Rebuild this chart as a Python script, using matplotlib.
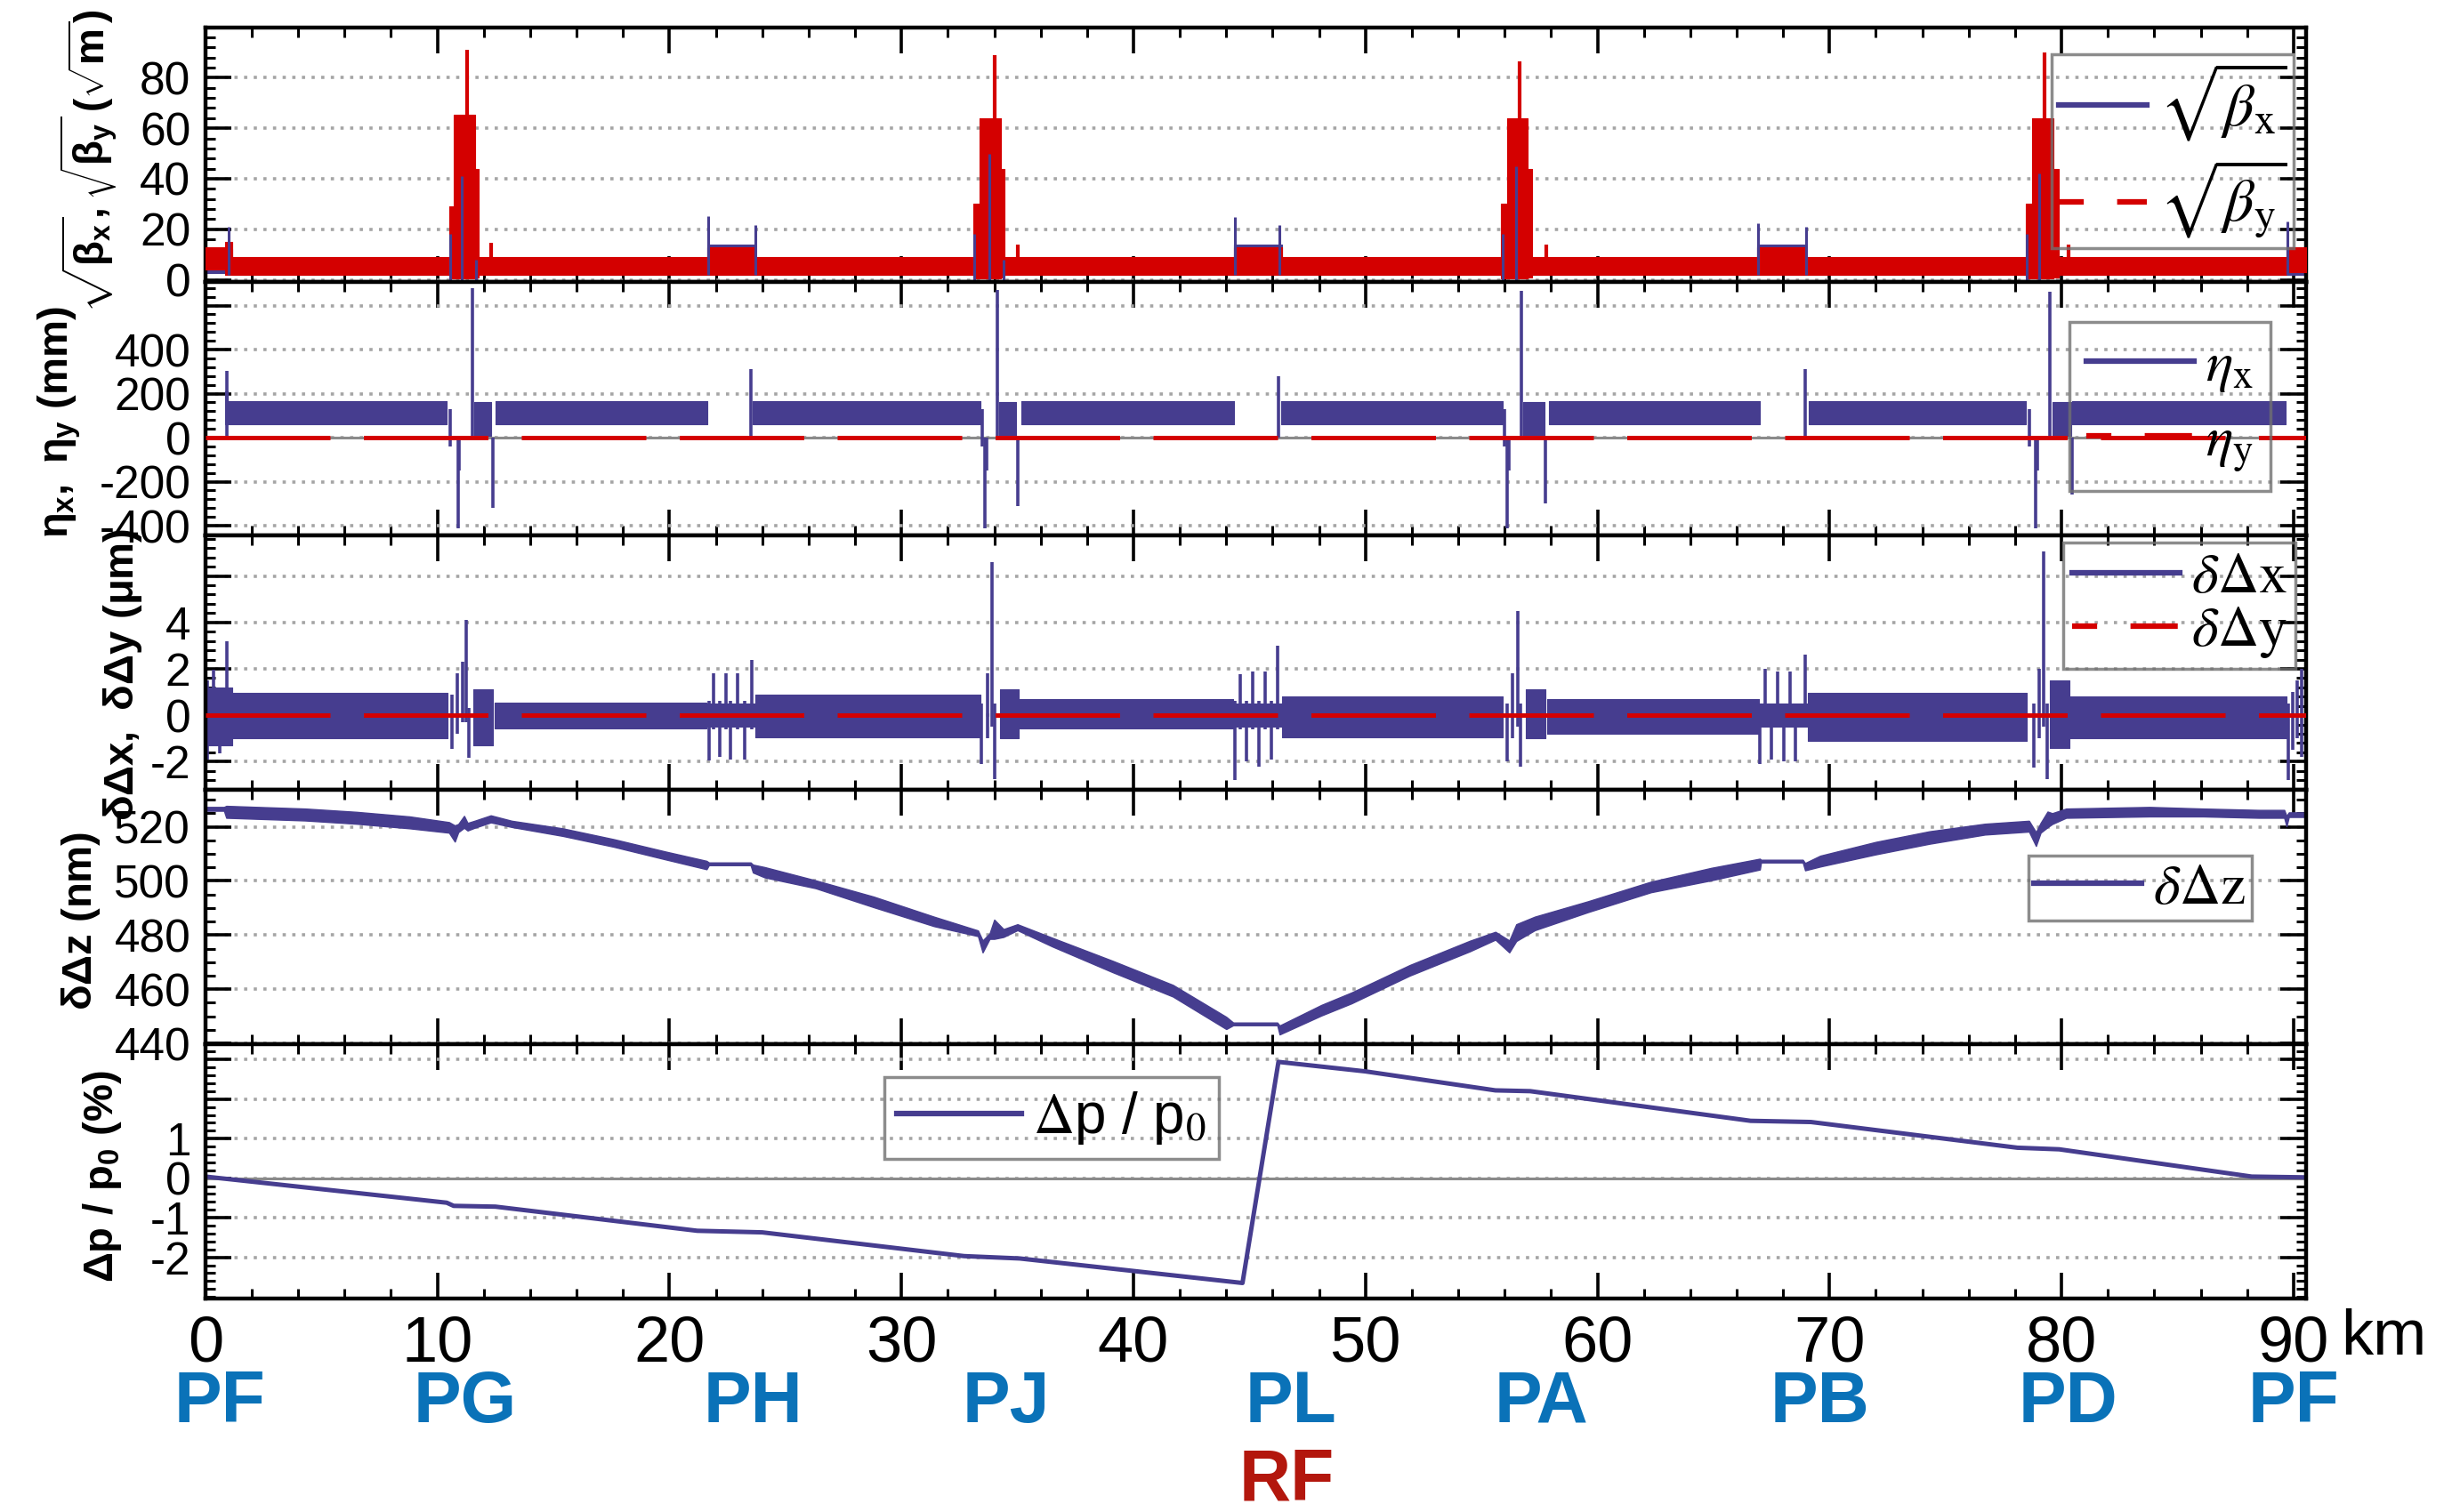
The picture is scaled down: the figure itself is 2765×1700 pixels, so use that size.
import matplotlib
matplotlib.use('Agg')
import matplotlib.pyplot as plt
import matplotlib.transforms as mtransforms
from matplotlib.lines import Line2D
from matplotlib.ticker import MultipleLocator

BLUE = '#463d8f'
RED = '#d40000'
GRAY = '#8a8a8a'

# ---------------- data ----------------
ring_km = [0.0, 90.6]
zero_line = [0.0, 0.0]

# sqrt(beta): dense betatron wiggles given as envelopes (km from, km to, min, max)
bx_blocks = [(0.0, 1.15, 2.5, 12.0), (1.15, 90.6, 2.0, 8.5),
             (21.63, 23.72, 4.0, 14.0), (44.35, 46.40, 4.0, 14.0),
             (66.90, 69.00, 4.0, 14.0), (89.70, 90.6, 3.0, 13.0)]
by_blocks = [(0.0, 0.85, 4.0, 12.9), (0.85, 1.15, 1.8, 15.0), (1.15, 89.7, 1.8, 8.9),
             (21.63, 23.72, 4.0, 12.9), (44.35, 46.40, 4.0, 12.9), (66.90, 69.00, 4.0, 12.9),
             (10.51, 10.69, 0.5, 29.0), (10.69, 11.61, 0.5, 65.5), (11.61, 11.76, 1.0, 44.0),
             (33.09, 33.36, 0.5, 30.0), (33.36, 34.30, 0.5, 64.0), (34.30, 34.45, 1.0, 44.0),
             (55.84, 56.10, 0.5, 30.0), (56.10, 57.00, 0.5, 64.0), (57.00, 57.17, 1.0, 44.0),
             (78.47, 78.72, 0.5, 30.0), (78.72, 79.66, 0.5, 64.0), (79.66, 79.87, 1.0, 44.0),
             (89.70, 90.6, 3.0, 13.0)]
by_spikes = [(11.28, 0.5, 91.0), (34.00, 0.5, 89.0), (56.66, 0.5, 86.5), (79.27, 0.5, 90.0),
             (12.30, 2.0, 14.6), (35.00, 2.0, 14.0), (57.80, 2.0, 14.0), (80.30, 2.0, 14.0)]
bx_spikes = [(1.00, 2.0, 21.0), (21.66, 2.0, 25.3), (23.69, 2.0, 21.7), (44.37, 2.0, 25.0),
             (46.30, 2.0, 21.7), (66.92, 2.0, 22.5), (68.98, 2.0, 21.0), (89.72, 2.0, 23.0),
             (10.55, 0.0, 18.0), (11.06, 0.0, 41.0), (11.65, 0.0, 8.0),
             (33.15, 0.0, 18.0), (33.80, 0.0, 50.0), (34.40, 0.0, 8.0),
             (55.90, 0.0, 18.0), (56.50, 0.0, 45.0), (78.50, 0.0, 18.0), (79.05, 0.0, 42.0)]

# dispersion eta_x (mm)
etax_blocks = [(0.98, 10.40, 60, 165), (12.49, 21.62, 60, 165), (23.60, 33.40, 60, 165),
               (35.16, 44.35, 60, 165), (46.35, 55.90, 60, 165), (57.90, 67.00, 60, 165),
               (69.10, 78.45, 60, 165), (80.45, 89.65, 60, 165), (0.83, 0.98, 60, 210),
               (11.60, 12.30, 10, 160), (34.20, 34.95, 10, 160), (56.80, 57.70, 10, 160),
               (79.60, 80.40, 10, 160)]
etax_spikes = [(0.93, 0, 305), (10.55, -40, 130), (10.89, -410, 0), (10.95, -150, 0),
               (11.50, 0, 680), (12.38, -317, 0), (23.50, 0, 310),
               (33.50, -40, 130), (33.60, -410, 0), (33.68, -150, 0), (34.14, 0, 670),
               (35.02, -310, 0), (46.25, 0, 280),
               (56.00, -40, 130), (56.10, -410, 0), (56.18, -150, 0), (56.73, 0, 665),
               (57.74, -300, 0), (68.94, 0, 310),
               (78.60, -40, 130), (78.90, -410, 0), (78.98, -150, 0), (79.50, 0, 662),
               (80.45, -260, 0)]
eta_y = [0.0, 0.0]

# orbit deviation dx (um)
dx_blocks = [(0.0, 1.15, -1.3, 1.2), (1.15, 10.45, -1.0, 0.95), (12.45, 21.60, -0.55, 0.55),
             (23.70, 33.40, -0.95, 0.9), (35.10, 44.30, -0.55, 0.7), (46.40, 55.90, -0.95, 0.8),
             (57.85, 66.95, -0.8, 0.7), (69.05, 78.50, -1.1, 0.95), (80.35, 89.70, -1.0, 0.8),
             (11.55, 12.38, -1.3, 1.13), (34.25, 35.05, -1.0, 1.1), (56.90, 57.75, -1.0, 1.1),
             (79.50, 80.33, -1.4, 1.5), (21.60, 23.70, -0.5, 0.5), (44.30, 46.40, -0.5, 0.5),
             (66.95, 69.05, -0.5, 0.5)]
dx_spikes = [(0.10, -1.9, 1.5), (0.35, -1.0, 1.95), (0.60, -1.65, 0.8), (0.94, -1.2, 3.2),
             (10.62, -1.45, 0.9), (10.85, -0.8, 1.8), (11.10, -0.3, 2.3), (11.24, -0.3, 4.1),
             (11.36, -1.85, 0.3),
             (21.70, -1.95, 0.6), (21.91, -0.6, 1.8), (22.18, -1.8, 0.6), (22.44, -0.6, 1.8),
             (22.62, -1.9, 0.6), (22.95, -0.6, 1.8), (23.23, -1.9, 0.6), (23.54, -0.6, 2.4),
             (33.43, -2.1, 0.5), (33.70, -1.0, 1.8), (33.90, -0.5, 6.6), (34.00, -2.75, 0.5),
             (44.39, -2.8, 0.6), (44.62, -0.6, 1.75), (44.88, -2.0, 0.6), (45.14, -0.6, 1.9),
             (45.40, -2.2, 0.6), (45.68, -0.6, 1.9), (45.95, -1.9, 0.6), (46.22, -0.6, 3.0),
             (56.10, -2.0, 0.5), (56.35, -1.0, 1.8), (56.55, -0.5, 4.5), (56.67, -2.2, 0.5),
             (67.00, -2.1, 0.5), (67.24, -0.5, 2.0), (67.48, -1.9, 0.5), (67.76, -0.5, 1.9),
             (68.02, -2.0, 0.5), (68.30, -0.5, 1.9), (68.53, -2.0, 0.5), (68.94, -0.5, 2.6),
             (78.80, -2.25, 0.5), (79.03, -1.0, 2.0), (79.22, -0.5, 7.05), (79.38, -2.75, 0.5),
             (89.77, -2.8, 0.5), (89.95, -1.5, 1.0), (90.15, -1.0, 1.5), (90.36, -1.8, 2.0)]
dy_line = [0.0, 0.0]

# longitudinal deviation dz (nm), band of the fast ripple
dz_s = [0.0, 0.8, 0.9, 4.3, 6.5, 8.8, 10.5, 10.75, 10.9, 11.15, 11.3, 11.6, 12.3, 13.2,
        15.4, 17.6, 19.8, 21.6, 21.7, 23.5, 23.6, 24.1, 26.3, 28.8, 31.4, 33.3, 33.5,
        33.8, 34.0, 34.4, 35.0, 36.5, 39.1, 41.7, 44.0, 44.3, 46.2, 46.3, 48.1, 49.4,
        51.9, 54.5, 55.6, 56.2, 56.5, 57.3, 59.6, 62.3, 64.9, 67.0, 67.05, 68.85, 68.95,
        69.6, 72.0, 74.3, 76.7, 78.6, 78.9, 79.1, 79.4, 79.6, 80.2, 83.8, 86.1, 88.5,
        89.6, 89.7, 89.8, 90.6]
dz_lo = [525.9, 525.9, 523.3, 522.3, 521.1, 519.4, 517.8, 514.5, 518.0, 519.6, 518.6,
         519.6, 521.6, 519.9, 516.6, 512.6, 508.0, 504.3, 505.8, 505.8, 503.1, 501.3,
         497.3, 490.3, 483.3, 479.6, 473.6, 478.6, 478.6, 479.3, 481.8, 475.8, 466.3,
         457.3, 445.3, 446.7, 446.7, 443.3, 450.3, 454.8, 465.0, 474.0, 478.3, 473.6,
         477.8, 481.8, 488.5, 495.8, 500.2, 504.2, 506.8, 506.8, 503.9, 505.3, 509.8,
         513.7, 517.1, 518.2, 512.9, 517.8, 519.8, 521.0, 523.3, 523.8, 523.8, 523.3,
         523.3, 520.2, 523.6, 523.6]
dz_hi = [527.3, 527.3, 527.7, 526.7, 525.5, 523.8, 521.7, 520.5, 521.0, 524.0, 521.4,
         522.2, 524.2, 522.2, 519.4, 515.4, 510.9, 507.4, 506.8, 506.8, 506.0, 505.1,
         500.2, 494.2, 486.8, 481.7, 478.0, 480.6, 485.7, 482.2, 484.0, 479.0, 470.5,
         461.6, 449.8, 447.7, 447.7, 446.6, 454.2, 458.8, 468.9, 477.9, 481.2, 478.0,
         484.0, 486.8, 492.5, 499.7, 504.8, 508.2, 507.8, 507.8, 506.6, 509.3, 514.4,
         518.3, 521.1, 522.2, 518.0, 521.4, 525.6, 525.0, 526.7, 527.3, 526.7, 526.2,
         526.2, 524.0, 525.3, 525.3]

# momentum deviation dp/p0 (%)
dp_s = [0.0, 10.4, 10.7, 12.5, 21.2, 24.0, 32.7, 35.1, 44.7, 46.25, 50.0, 55.6, 57.1,
        66.6, 69.2, 78.1, 79.9, 88.2, 90.6]
dp_v = [0.04, -0.62, -0.70, -0.72, -1.33, -1.37, -1.97, -2.03, -2.65, 2.94, 2.70,
        2.22, 2.20, 1.45, 1.42, 0.77, 0.73, 0.04, 0.02]

x_ticks = [0, 10, 20, 30, 40, 50, 60, 70, 80, 90]
stations = ['PF', 'PG', 'PH', 'PJ', 'PL', 'PA', 'PB', 'PD', 'PF']
station_km = [0.6, 11.2, 23.6, 34.5, 46.8, 57.6, 69.6, 80.3, 90.0]
rf_km = 46.6

# ---------------- drawing ----------------
plt.rcParams['font.family'] = ['Liberation Sans', 'DejaVu Sans']
plt.rcParams['mathtext.fontset'] = 'dejavusans'
for k in ('rm', 'it', 'bf', 'sf'):
    plt.rcParams['mathtext.' + k] = 'Liberation Sans:bold'

fig, axs = plt.subplots(5, 1, figsize=(27.65, 17), dpi=100, sharex=True)
fig.subplots_adjust(left=0.0835, right=0.9375, top=0.982, bottom=0.141, hspace=0)


def blocks(ax, rows, color, z):
    for s0, s1, lo, hi in rows:
        ax.fill_between([s0, s1], lo, hi, color=color, lw=0.8, zorder=z)


def spikes(ax, rows, color, z, lw=2.6):
    s, lo, hi = zip(*rows)
    ax.vlines(s, lo, hi, color=color, lw=lw, zorder=z)


solid_h = lambda c: Line2D([], [], color=c, lw=4.5)
dash_h = Line2D([], [], color=RED, lw=4.5, ls=(4, (8.5, 6)))


def legend(ax, handles, labels, anchor, size=46, loc='upper right', **kw):
    opts = dict(loc=loc, bbox_to_anchor=anchor, prop=dict(size=size, math_fontfamily='stix'),
                frameon=True, fancybox=False, facecolor='none', edgecolor='#707070',
                handlelength=1.9, handletextpad=0.2, borderaxespad=0)
    opts.update(kw)
    lg = ax.legend(handles, labels, **opts)
    lg.get_frame().set_linewidth(2.5)
    lg.set_zorder(10)
    return lg


# panel 1: sqrt(beta)
ax = axs[0]
blocks(ax, bx_blocks, BLUE, 2)
blocks(ax, by_blocks, RED, 3)
spikes(ax, by_spikes, RED, 3, lw=3)
spikes(ax, bx_spikes, BLUE, 4, lw=2.2)
ax.set_ylim(-0.7, 100)
ax.set_yticks([0, 20, 40, 60, 80])
ax.yaxis.set_minor_locator(MultipleLocator(4))
legend(ax, [solid_h(BLUE), dash_h], [r'$\sqrt{\beta_\mathrm{x}}$', r'$\sqrt{\beta_\mathrm{y}}$'],
       (0.994, 0.895), size=49, labelspacing=0.25, borderpad=0.12, handlelength=1.45)

# panel 2: dispersion
ax = axs[1]
ax.plot(ring_km, zero_line, color=GRAY, lw=2.2, zorder=1.5)
blocks(ax, etax_blocks, BLUE, 2)
spikes(ax, etax_spikes, BLUE, 2)
ax.plot(ring_km, eta_y, color=RED, lw=3.6, dashes=(28, 7.5), zorder=3)
ax.set_ylim(-446, 709)
ax.set_yticks([-400, -200, 0, 200, 400, 600])
ax.set_yticklabels(['-400', '-200', '0', '200', '400', ''])
ax.yaxis.set_minor_locator(MultipleLocator(40))
legend(ax, [solid_h(BLUE), dash_h], [r'$\eta_\mathrm{x}$', r'$\eta_\mathrm{y}$'],
       (0.983, 0.84), labelspacing=0.35, borderpad=0.3)

# panel 3: orbit deviations
ax = axs[2]
blocks(ax, dx_blocks, BLUE, 2)
spikes(ax, dx_spikes, BLUE, 2)
ax.plot(ring_km, dy_line, color=RED, lw=3.6, dashes=(28, 7.5), zorder=3)
ax.set_ylim(-3.23, 7.73)
ax.set_yticks([-2, 0, 2, 4, 6])
ax.set_yticklabels(['-2', '0', '2', '4', ''])
ax.yaxis.set_minor_locator(MultipleLocator(0.4))
legend(ax, [solid_h(BLUE), dash_h], [r'$\delta\Delta\mathrm{x}$', r'$\delta\Delta\mathrm{y}$'],
       (0.995, 0.975), labelspacing=0.0, borderpad=0.15)

# panel 4: dz
ax = axs[3]
ax.fill_between(dz_s, dz_lo, dz_hi, color=BLUE, lw=1.0, zorder=2)
ax.set_ylim(439.6, 533.5)
ax.set_yticks([440, 460, 480, 500, 520])
ax.yaxis.set_minor_locator(MultipleLocator(5))
legend(ax, [solid_h(BLUE)], [r'$\delta\Delta\mathrm{z}$'], (0.974, 0.742), borderpad=0.1)

# panel 5: dp/p0
ax = axs[4]
ax.plot(ring_km, zero_line, color=GRAY, lw=2.2, zorder=1.5)
ax.plot(dp_s, dp_v, color=BLUE, lw=3.6, zorder=2)
ax.set_ylim(-3.05, 3.38)
ax.set_yticks([-2, -1, 0, 1, 2, 3])
ax.set_yticklabels(['-2', '-1', '0', '1', '', ''])
ax.yaxis.set_minor_locator(MultipleLocator(0.2))
legend(ax, [solid_h(BLUE)], [r'$\Delta$p / p$_0$'], (0.323, 0.871), loc='upper left',
       borderpad=0.22, handlelength=2.2)

for ax in axs:
    ax.set_xlim(0, 90.55)
    ax.xaxis.set_major_locator(MultipleLocator(10))
    ax.xaxis.set_minor_locator(MultipleLocator(2))
    ax.yaxis.grid(True, which='major', ls=(0, (1, 2)), color='#a5a5a5', lw=2.6, zorder=0)
    ax.set_axisbelow(True)
    ax.tick_params(which='both', direction='in', top=True, right=True, labelsize=37, pad=12)
    ax.tick_params(which='major', length=21, width=2.6)
    ax.tick_params(which='minor', length=8, width=2.2)
    for sp in ax.spines.values():
        sp.set_linewidth(3.2)

axs[4].set_xticks(x_ticks)
axs[4].set_xticklabels([str(v) for v in x_ticks], fontsize=52,
                       family=['Liberation Sans Narrow', 'Liberation Sans'])
axs[4].tick_params(axis='x', pad=13)

# y-axis titles
ylab = dict(rotation=90, ha='center', va='center', fontsize=34, fontweight='bold',
            math_fontfamily='custom')
fig.text(0.036, 0.893, r'$\sqrt{\beta_x},\sqrt{\beta_y}\,(\sqrt{m})$', fontsize=33,
         **{k: v for k, v in ylab.items() if k != 'fontsize'})
fig.text(0.024, 0.721, r'$\eta_x,\ \eta_y$ (mm)', **ylab)
fig.text(0.050, 0.554, r'$\delta\Delta x,\ \delta\Delta y\ (\mu m)$', **ylab)
fig.text(0.033, 0.391, r'$\delta\Delta z$ (nm)', **ylab)
fig.text(0.0415, 0.222, r'$\Delta p\ /\ p_0$ (%)', **ylab)

# station names under the x axis
ax = axs[4]
trans = mtransforms.blended_transform_factory(ax.transData, ax.transAxes)
ax.text(93.9, -0.153, 'km', transform=trans, ha='center', va='center', fontsize=52,
        family=['Liberation Sans Narrow', 'Liberation Sans'])
for name, km in zip(stations, station_km):
    ax.text(km, -0.411, name, transform=trans, ha='center', va='center', fontsize=58,
            fontweight='bold', color='#0a72b8')
ax.text(rf_km, -0.718, 'RF', transform=trans, ha='center', va='center', fontsize=58,
        fontweight='bold', color='#b3170d')

fig.savefig('out.png', dpi=100)
